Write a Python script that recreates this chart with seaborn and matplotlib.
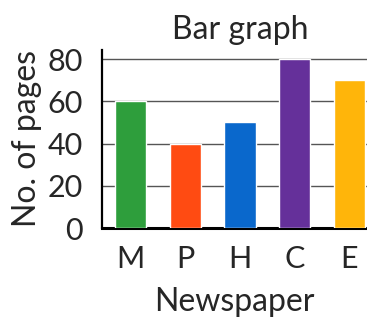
import matplotlib
matplotlib.use("Agg")
import matplotlib.pyplot as plt
import seaborn as sns
import pandas as pd

sns.set_style("white")
plt.rcParams['font.family'] = ['Lato', 'DejaVu Sans']

newspapers = ["M", "P", "H", "C", "E"]
pages = [60, 40, 50, 80, 70]
colors = ["#2e9e3c", "#ff4b12", "#0a68cc", "#65309a", "#ffb50a"]

df = pd.DataFrame({"Newspaper": newspapers, "Pages": pages})

fig = plt.figure(figsize=(3.67, 3.18), dpi=100)
ax = fig.add_axes([0.278, 0.283, 0.722, 0.56])

sns.barplot(data=df, x="Newspaper", y="Pages", hue="Newspaper",
            palette=colors, saturation=1, width=0.57, legend=False,
            ax=ax, zorder=3)

ax.set_xlim(-0.52, 4.32)
ax.set_ylim(0, 84.3)
ax.set_yticks([0, 20, 40, 60, 80])
ax.grid(axis="y", color="#555555", linewidth=1.0, zorder=0)
ax.set_axisbelow(True)

for side in ["top", "right"]:
    ax.spines[side].set_visible(False)
ax.spines["left"].set_color("black")
ax.spines["left"].set_linewidth(1.6)
ax.spines["bottom"].set_color("black")
ax.spines["bottom"].set_linewidth(2.2)

ax.tick_params(axis="y", length=9, width=1.0, color="#555555", pad=5, labelsize=22)
ax.tick_params(axis="x", length=0, pad=12, labelsize=22)
ax.set_xlabel("Newspaper", fontsize=23, labelpad=10)
ax.set_ylabel("No. of pages", fontsize=23, labelpad=4)
ax.set_title("Bar graph", fontsize=23, pad=8, x=0.52)

fig.savefig("out.png", dpi=100)
